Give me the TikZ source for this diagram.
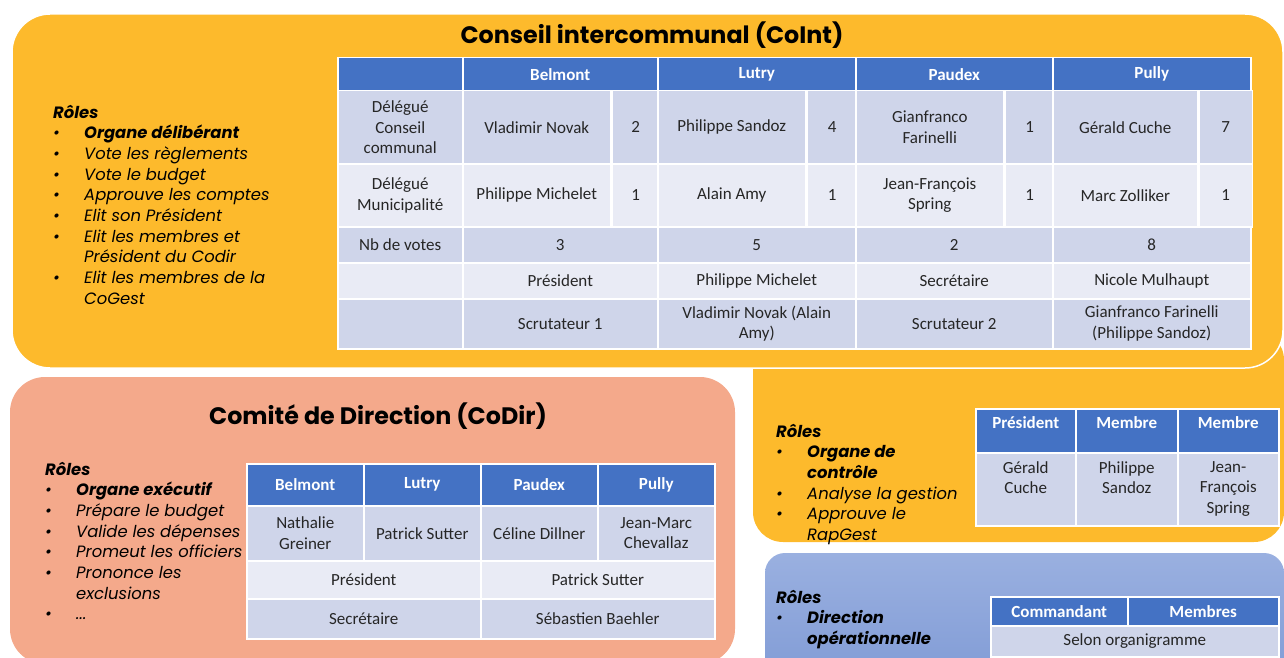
\documentclass[tikz,border=0pt]{standalone}
\usepackage{fontspec}
\setmainfont{Carlito}
\newfontfamily\gothic{Poppins}
\usetikzlibrary{positioning}
\definecolor{cointyellow}{HTML}{FDBA2C}
\definecolor{codirsalmon}{HTML}{F4A98B}
\definecolor{opbluetop}{HTML}{9AB0E0}
\definecolor{opbluebot}{HTML}{7F9AD5}
\definecolor{hdrblue}{HTML}{4472C4}
\definecolor{banddark}{HTML}{CFD5EA}
\definecolor{bandlight}{HTML}{E9EBF5}
\definecolor{txt}{HTML}{262626}
\newcommand\tabfont{\fontsize{17}{20.7}\selectfont}
\newcommand\roleslist[1]{\begin{tabular}[t]{@{}p{31pt}@{}l@{}}\multicolumn{2}{@{}l@{}}{\bfseries R\^oles}\\#1\end{tabular}}
\tikzset{
  cell/.style={draw=white, line width=1.5pt, anchor=north west, inner sep=1pt,
    align=center, text=txt, font=\tabfont},
  hdr/.style={cell, fill=hdrblue, text=white, font=\tabfont\bfseries},
  bandd/.style={cell, fill=banddark},
  bandl/.style={cell, fill=bandlight},
  celltext/.style={inner sep=0pt, align=center, text=txt, font=\tabfont},
  roles/.style={anchor=base west, inner sep=0pt, text=black,
    font=\gothic\fontsize{16.4}{20.7}\selectfont\itshape},
  title/.style={font=\gothic\bfseries\fontsize{23.8}{28}\selectfont, text=black},
}

\begin{document}
\begin{tikzpicture}[x=1pt,y=-1pt]
  \useasboundingbox (0,0) rectangle (1284,658);

  % fonds
  \fill[cointyellow,rounded corners=30] (753,330) rectangle (1284,542);
  \path[fill=cointyellow,draw=white,line width=1.5pt,rounded corners=38] (12,14) rectangle (1283,368);
  \fill[codirsalmon,rounded corners=35] (10,377) rectangle (735,664);
  \shade[top color=opbluetop,bottom color=opbluebot,rounded corners=20] (765,553) rectangle (1284,690);

  \node[title] (ci-title) at (652,35) {Conseil intercommunal (CoInt)};
  \node[title] (cd-title) at (378,416) {Comité de Direction (CoDir)};

  % CoInt
  \node[hdr,minimum width=125,minimum height=33] (ci-h0) at (337,57) {};
  \foreach \x/\w/\t [count=\i] in {462/195/Belmont,657/198/Lutry,855/197/Paudex,1052/198/Pully}
    \node[hdr,minimum width=\w,minimum height=33] (ci-h\i) at (\x,57) {\t};
  \node[bandd,minimum width=125,minimum height=73] (ci-l1) at (337,90) {Délégué\\Conseil\\communal};
  \foreach \x/\w/\t/\v/\vw [count=\i] in {462/148/{Vladimir Novak}/2/47, 657/148/{Philippe Sandoz}/4/50,
      855/148/{Gianfranco\\Farinelli}/1/49, 1052/145/{Gérald Cuche}/7/53}{
    \node[bandd,minimum width=\w,minimum height=73] (ci-c\i) at (\x,90) {\t};
    \node[bandd,minimum width=\vw,minimum height=73] (ci-cv\i) at (ci-c\i.north east) {\v};
  }
  \node[bandl,minimum width=125,minimum height=63] (ci-l2) at (337,163) {Délégué\\Municipalité};
  \foreach \x/\w/\t/\v/\vw [count=\i] in {462/148/{Philippe Michelet}/1/47, 657/148/{Alain Amy}/1/50,
      855/148/{Jean-François\\Spring}/1/49, 1052/145/{Marc Zolliker}/1/53}{
    \node[bandl,minimum width=\w,minimum height=63] (ci-m\i) at (\x,163) {\t};
    \node[bandl,minimum width=\vw,minimum height=63] (ci-mv\i) at (ci-m\i.north east) {\v};
  }
  \node[bandd,minimum width=125,minimum height=36] (ci-l3) at (337,226) {Nb de votes};
  \foreach \x/\w/\t [count=\i] in {462/195/3,657/198/5,855/197/2,1052/198/8}
    \node[bandd,minimum width=\w,minimum height=36] (ci-n\i) at (\x,226) {\t};
  \node[bandl,minimum width=125,minimum height=36] (ci-l4) at (337,262) {};
  \foreach \x/\w/\t [count=\i] in {462/195/Président,657/198/{Philippe Michelet},855/197/Secrétaire,1052/198/{Nicole Mulhaupt}}
    \node[bandl,minimum width=\w,minimum height=36] (ci-p\i) at (\x,262) {\t};
  \node[bandd,minimum width=125,minimum height=50] (ci-l5) at (337,298) {};
  \foreach \x/\w/\t [count=\i] in {462/195/{Scrutateur 1},657/198/{Vladimir Novak (Alain\\Amy)},
      855/197/{Scrutateur 2},1052/198/{Gianfranco Farinelli\\(Philippe Sandoz)}}
    \node[bandd,minimum width=\w,minimum height=50] (ci-s\i) at (\x,298) {\t};

  \node[roles] (ci-roles) at (53,118) {\roleslist{%
    \textbullet & \bfseries Organe délibérant\\
    \textbullet & Vote les règlements\\
    \textbullet & Vote le budget\\
    \textbullet & Approuve les comptes\\
    \textbullet & Elit son Président\\
    \textbullet & Elit les membres et\\
     & Président du Codir\\
    \textbullet & Elit les membres de la\\
     & CoGest}};

  % CoDir
  \foreach \x/\t [count=\i] in {246/Belmont,363/Lutry,480/Paudex,597/Pully}
    \node[hdr,minimum width=117,minimum height=42] (cd-h\i) at (\x,463) {\t};
  \foreach \x/\t [count=\i] in {246/{Nathalie\\Greiner},363/{Patrick Sutter},480/{Céline Dillner},597/{Jean-Marc\\Chevallaz}}
    \node[bandd,minimum width=117,minimum height=55] (cd-m\i) at (\x,505) {\t};
  \node[bandl,minimum width=234,minimum height=38] (cd-p1) at (246,560) {Président};
  \node[bandl,minimum width=234,minimum height=38] (cd-p2) at (480,560) {Patrick Sutter};
  \node[bandd,minimum width=234,minimum height=40] (cd-s1) at (246,598) {Secrétaire};
  \node[bandd,minimum width=234,minimum height=40] (cd-s2) at (480,598) {Sébastien Baehler};

  \node[roles] (cd-roles) at (45,475) {\roleslist{%
    \textbullet & \bfseries Organe exécutif\\
    \textbullet & Prépare le budget\\
    \textbullet & Valide les dépenses\\
    \textbullet & Promeut les officiers\\
    \textbullet & Prononce les\\
     & exclusions\\
    \textbullet & ...}};

  % CoGest
  \foreach \x/\w/\t/\n [count=\i] in {975/100/Président/{Gérald\\Cuche},1075/102/Membre/{Philippe\\Sandoz},
      1177/101/Membre/{Jean-\\François\\Spring}}{
    \node[hdr,minimum width=\w,minimum height=44] (cg-h\i) at (\x,408) {};
    \node[celltext,text=white,font=\tabfont\bfseries,below=8pt of cg-h\i.north] (cg-ht\i) {\t};
    \node[bandd,minimum width=\w,minimum height=73] (cg-m\i) at (\x,452) {};
    \node[celltext,below=9pt of cg-m\i.north] (cg-mt\i) {\n};
  }

  \node[roles] (cg-roles) at (776,437) {\roleslist{%
    \textbullet & \bfseries Organe de\\
     & \bfseries contrôle\\
    \textbullet & Analyse la gestion\\
    \textbullet & Approuve le\\
     & RapGest}};

  % etat-major
  \node[hdr,minimum width=137,minimum height=29] (op-h1) at (990,596) {Commandant};
  \node[hdr,minimum width=151,minimum height=29] (op-h2) at (1127,596) {Membres};
  \node[bandd,minimum width=288,minimum height=31] (op-m1) at (990,625) {Selon organigramme};

  \node[roles] (op-roles) at (776,603) {\roleslist{%
    \textbullet & \bfseries Direction\\
     & \bfseries opérationnelle}};
\end{tikzpicture}
\end{document}
